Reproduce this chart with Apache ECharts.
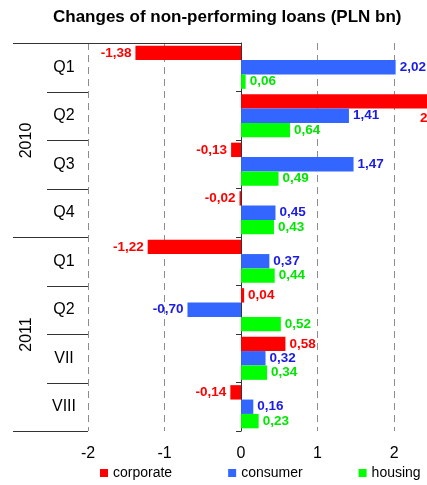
<!DOCTYPE html>
<html>
<head>
<meta charset="utf-8">
<script src="https://cdn.jsdelivr.net/npm/echarts@6/dist/echarts.min.js"></script>
<style>
  html, body { margin: 0; padding: 0; background: #fff; }
  #chart { width: 427px; height: 485px; }
</style>
</head>
<body>
<div id="chart"></div>
<script>
// Periods on the category axis, grouped by year
const periods = ['Q1', 'Q2', 'Q3', 'Q4', 'Q1', 'Q2', 'VII', 'VIII'];
const years = ['2010', '2011'];
const periodsPerYear = [4, 4];

// Changes of non-performing loans, PLN bn
const corporate = [-1.38, 2.50, -0.13, -0.02, -1.22, 0.04, 0.58, -0.14];
const consumer  = [2.02, 1.41, 1.47, 0.45, 0.37, -0.70, 0.32, 0.16];
const housing   = [0.06, 0.64, 0.49, 0.43, 0.44, 0.52, 0.34, 0.23];

const seriesNames = ['corporate', 'consumer', 'housing'];

// Visible value range of the horizontal axis
const xMin = -2;
const xMax = 2.43;

const FONT = '"Liberation Sans", Arial, sans-serif';
const barColors = ['#ff0000', '#3366ff', '#00ff00'];
const labelColors = ['#ff0000', '#1a1ae6', '#00e600'];

const fmt = v => v.toFixed(2).replace('.', ',');

function barData(values) {
  return values.map(v => ({
    value: v,
    label: { position: v < 0 ? 'left' : 'right' }
  }));
}

const chart = echarts.init(document.getElementById('chart'), null, { renderer: 'canvas' });

const option = {
  animation: false,
  backgroundColor: '#fff',
  title: {
    text: 'Changes of non-performing loans (PLN bn)',
    left: 53,
    top: 9,
    padding: 0,
    textStyle: { fontFamily: FONT, fontSize: 17, fontWeight: 'bold', color: '#000' }
  },
  legend: {
    data: seriesNames,
    left: 100,
    top: 466,
    padding: 0,
    itemGap: 56,
    itemWidth: 8,
    itemHeight: 8,
    icon: 'rect',
    textStyle: { fontFamily: FONT, fontSize: 14, color: '#000' }
  },
  grid: { left: 88, right: 0, top: 43, bottom: 54, containLabel: false },
  xAxis: {
    type: 'value',
    min: xMin,
    max: xMax,
    interval: 1,
    axisLine: { show: false },
    axisTick: { show: false },
    axisLabel: {
      margin: 15,
      fontFamily: FONT,
      fontSize: 16,
      color: '#000',
      showMaxLabel: false,
      formatter: v => (Number.isInteger(v) ? String(v) : '')
    },
    splitLine: {
      show: true,
      lineStyle: { color: '#8c8c8c', width: 1, type: [7, 5] }
    }
  },
  yAxis: [
    {
      type: 'category',
      data: periods,
      inverse: true,
      axisLine: { show: true, onZero: true, lineStyle: { color: '#333', width: 1 } },
      axisTick: { show: true, inside: false, length: 5, alignWithLabel: false, lineStyle: { color: '#333' } },
      axisLabel: { show: false },
      splitLine: { show: false }
    },
    {
      type: 'category',
      data: periods,
      inverse: true,
      position: 'left',
      offset: 0,
      axisLine: { show: false, onZero: false },
      axisTick: { show: false },
      axisLabel: {
        show: true,
        margin: 24,
        align: 'center',
        fontFamily: FONT,
        fontSize: 16,
        color: '#000'
      },
      splitLine: { show: false }
    }
  ],
  series: [corporate, consumer, housing].map((vals, i) => ({
    name: seriesNames[i],
    type: 'bar',
    yAxisIndex: 0,
    clip: true,
    data: barData(vals),
    barGap: '0%',
    barCategoryGap: '11%',
    itemStyle: { color: barColors[i] },
    label: {
      show: true,
      distance: 4,
      fontFamily: FONT,
      fontSize: 13.5,
      fontWeight: 'bold',
      color: labelColors[i],
      formatter: p => fmt(p.value)
    }
  }))
};

chart.setOption(option);

// Second pass: group separators, year labels and labels of bars running past the visible edge
function decorate() {
  const width = chart.getWidth();
  const x0 = chart.convertToPixel({ xAxisIndex: 0 }, 0);
  const xL = chart.convertToPixel({ xAxisIndex: 0 }, xMin);
  const xR = chart.convertToPixel({ xAxisIndex: 0 }, xMax);
  const c0 = chart.convertToPixel({ yAxisIndex: 0 }, 0);
  const c1 = chart.convertToPixel({ yAxisIndex: 0 }, 1);
  const band = c1 - c0;
  const edge = k => Math.round(c0 - band / 2 + k * band) + 0.5;

  const graphics = [];
  const line = (xa, xb, y) => graphics.push({
    type: 'line',
    silent: true,
    shape: { x1: xa, y1: y, x2: xb, y2: y },
    style: { stroke: '#333', lineWidth: 1 }
  });

  let k = 0;
  line(13, x0, edge(0));
  years.forEach((yr, g) => {
    const start = k;
    for (let j = 1; j < periodsPerYear[g]; j++) line(47, xL, edge(start + j));
    k += periodsPerYear[g];
    line(13, xL, edge(k));
    graphics.push({
      type: 'text',
      silent: true,
      x: 27,
      y: (edge(start) + edge(k)) / 2,
      rotation: Math.PI / 2,
      style: {
        text: yr,
        fontFamily: FONT,
        fontSize: 16,
        fill: '#000',
        align: 'center',
        verticalAlign: 'middle'
      }
    });
  });

  // Bars longer than the visible range keep their label just inside the right edge
  const series = [corporate, consumer, housing].map((vals) => ({
    data: vals.map(v => {
      if (v > xMax) {
        const end = Math.min(chart.convertToPixel({ xAxisIndex: 0 }, v), xR);
        return {
          value: v,
          label: { position: 'right', offset: [(width - 7) - (end + 4), Math.round(band * 0.35)] }
        };
      }
      return { value: v, label: { position: v < 0 ? 'left' : 'right' } };
    })
  }));

  chart.setOption({ graphic: graphics, series: series });
}

decorate();
</script>
</body>
</html>
